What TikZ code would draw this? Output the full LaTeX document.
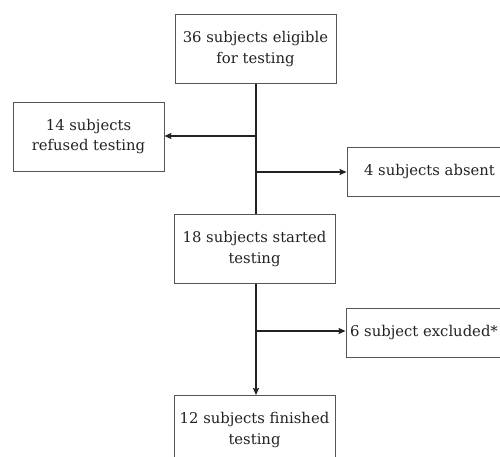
\documentclass[tikz,border=0pt]{standalone}
\usepackage{fontspec}
\setmainfont{DejaVu Serif}
\usetikzlibrary{arrows.meta}
\definecolor{ink}{HTML}{222222}
\definecolor{edge}{HTML}{555555}
\begin{document}
\begin{tikzpicture}[x=1pt,y=-1pt,
  box/.style={draw=edge,line width=0.9pt,minimum width=161pt,minimum height=69pt,
    inner sep=0pt,align=center,text=ink,font=\fontsize{14.8}{20.5}\selectfont},
  sidebox/.style={box,minimum height=49pt},
  conn/.style={draw=ink,line width=1.5pt},
  arr/.style={conn,-{Stealth[length=7pt,width=6pt,inset=1pt]}}]
\useasboundingbox (0,0) rectangle (500,457);
\node[box] (eligible) at (255.5,49) {36 subjects eligible\\for testing};
\node[box,minimum width=151pt] (refused) at (88.5,136.5) {14 subjects\\refused testing};
\node[sidebox,minimum width=165pt] (absent) at (429.5,171.5) {4 subjects absent};
\node[box] (started) at (254.5,249) {18 subjects started\\testing};
\node[sidebox,minimum width=156pt] (excluded) at (424,332.5) {6 subject excluded*};
\node[box] (finished) at (254.5,430) {12 subjects finished\\testing};
\coordinate (b1) at (256,136);
\coordinate (b2) at (256,172);
\coordinate (b3) at (256,331);
\draw[conn] (eligible.south -| b1) -- (started.north -| b1);
\draw[arr] (b1) -- (refused.east |- b1);
\draw[arr] (b2) -- (absent.west |- b2);
\draw[arr] (started.south -| b3) -- (finished.north -| b3);
\draw[arr] (b3) -- (excluded.west |- b3);
\end{tikzpicture}
\end{document}
